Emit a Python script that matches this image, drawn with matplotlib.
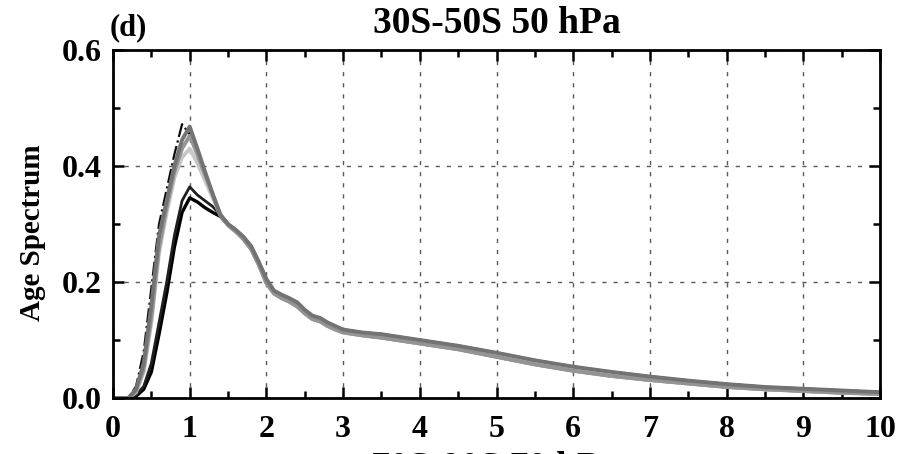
import numpy as np
import matplotlib.pyplot as plt
from matplotlib.ticker import MultipleLocator

plt.rcParams['font.family'] = ['Liberation Serif', 'DejaVu Serif']
plt.rcParams['font.weight'] = 'bold'

# rising part of the spectra (transit time in years)
x_head = [0.0, 0.2, 0.3, 0.4, 0.5, 0.6, 0.7, 0.8, 0.9, 1.0, 1.1, 1.2, 1.3, 1.4]
head_a = [0.0, 0.0, 0.02, 0.08, 0.19, 0.30, 0.36, 0.42, 0.472, 0.455, 0.42, 0.38, 0.345, 0.315]
head_b = [0.0, 0.0, 0.015, 0.06, 0.16, 0.28, 0.34, 0.40, 0.445, 0.468, 0.43, 0.39, 0.352, 0.316]
head_c = [0.0, 0.0, 0.012, 0.05, 0.14, 0.26, 0.33, 0.39, 0.43, 0.452, 0.42, 0.385, 0.35, 0.316]
head_d = [0.0, 0.0, 0.01, 0.045, 0.13, 0.25, 0.32, 0.38, 0.415, 0.43, 0.405, 0.375, 0.345, 0.315]
head_e = [0.0, 0.0, 0.005, 0.02, 0.06, 0.13, 0.20, 0.28, 0.34, 0.364, 0.35, 0.34, 0.33, 0.316]
head_f = [0.0, 0.0, 0.003, 0.015, 0.045, 0.11, 0.18, 0.26, 0.32, 0.345, 0.338, 0.328, 0.32, 0.313]

# common tail
x_tail = [1.5, 1.6, 1.7, 1.8, 1.9, 2.0, 2.1, 2.2, 2.3, 2.4, 2.5, 2.6, 2.7, 2.8, 2.9, 3.0,
          3.25, 3.5, 3.75, 4.0, 4.5, 5.0, 5.5, 6.0, 6.5, 7.0, 7.5, 8.0, 8.5, 9.0, 9.5, 10.0]
tail_dark = [0.300, 0.290, 0.278, 0.262, 0.235, 0.205, 0.185, 0.178, 0.172, 0.165, 0.152, 0.142,
             0.138, 0.130, 0.124, 0.118, 0.113, 0.110, 0.105, 0.100, 0.090, 0.078, 0.065, 0.054,
             0.045, 0.037, 0.030, 0.024, 0.019, 0.016, 0.013, 0.010]
tail_light = [0.298, 0.287, 0.274, 0.257, 0.230, 0.198, 0.180, 0.172, 0.166, 0.158, 0.146, 0.136,
              0.132, 0.124, 0.118, 0.113, 0.108, 0.104, 0.099, 0.094, 0.084, 0.071, 0.058, 0.047,
              0.038, 0.031, 0.025, 0.019, 0.015, 0.012, 0.009, 0.007]

# drawn in this order: black runs first, grey runs on top
curves = [
    (head_f, tail_light, '0.0', 2.4, '-'),
    (head_e, tail_dark, '0.12', 2.0, '-'),
    (head_a, tail_dark, '0.05', 1.6, '-.'),
    (head_d, tail_light, '0.78', 2.8, '-'),
    (head_c, tail_light, '0.58', 2.8, '-'),
    (head_b, tail_dark, '0.45', 2.8, '-'),
]

fig = plt.figure(figsize=(9.02, 4.54), dpi=100)
ax = fig.add_axes([0.1253, 0.1233, 0.8503, 0.7666])

for head, tail, col, lw, ls in curves:
    ax.plot(x_head + x_tail, head + tail, color=col, lw=lw, ls=ls, solid_capstyle='round')

ax.set_xlim(0, 10)
ax.set_ylim(0, 0.6)
ax.set_xticks(range(11))
ax.set_yticks([0.0, 0.2, 0.4, 0.6])
ax.set_yticklabels(['0.0', '0.2', '0.4', '0.6'])
ax.xaxis.set_minor_locator(MultipleLocator(0.5))
ax.yaxis.set_minor_locator(MultipleLocator(0.1))
ax.tick_params(which='both', direction='in', top=True, right=True, width=1.8)
ax.tick_params(which='major', length=8, labelsize=23)
ax.tick_params(axis='x', which='major', pad=12)
ax.tick_params(axis='y', which='major', pad=8)
ax.tick_params(which='minor', length=5)
for s in ax.spines.values():
    s.set_linewidth(2)

ax.grid(True, which='major', color='0.35', lw=1.0, ls=(0, (3, 5)))
ax.set_axisbelow(True)

ax.set_ylabel('Age Spectrum', fontsize=21, fontweight='bold')
ax.yaxis.set_label_coords(-0.087, 0.475)
ax.set_title('30S-50S 50 hPa', fontsize=27, fontweight='bold', pad=12)
fig.text(0.121, 0.94, '(d)', fontsize=22, fontweight='bold', va='center')
fig.text(0.549, 0.006, '70S-90S 70 hPa', fontsize=27, fontweight='bold', ha='center', va='top')

fig.savefig('out.png', dpi=100)
